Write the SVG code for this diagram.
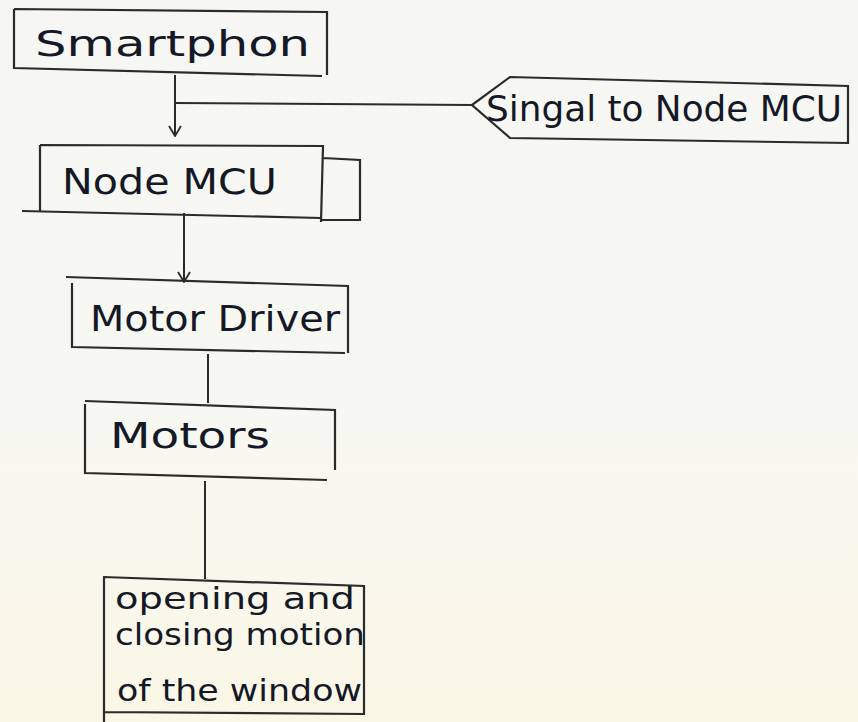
<svg xmlns="http://www.w3.org/2000/svg" width="858" height="722" viewBox="0 0 858 722">
<style>
.box{fill:none;stroke:#2b2b2b;stroke-width:2.2}
.ln{fill:none;stroke:#2b2b2b;stroke-width:2}
.t{font-family:"DejaVu Sans","Liberation Sans",sans-serif;fill:#151826;font-size:36px}
.s{font-size:30px}
</style>
<defs>
<linearGradient id="bg" x1="0" y1="0" x2="0" y2="1">
<stop offset="0" stop-color="#f6f6f4"/>
<stop offset="0.6" stop-color="#f8f8f2"/>
<stop offset="1" stop-color="#faf7e6"/>
</linearGradient>
<marker id="arr" viewBox="0 0 12 14" refX="11" refY="7" markerWidth="12" markerHeight="14" markerUnits="userSpaceOnUse" orient="auto">
<path d="M1 1 L11 7 L1 13" fill="none" stroke="#2b2b2b" stroke-width="1.8"/>
</marker>
</defs>
<rect width="858" height="722" fill="url(#bg)"/>
<g id="connectors">
<path class="ln" d="M175 75 L175 136" marker-end="url(#arr)"/>
<path class="ln" d="M175 103 L472 105"/>
<path class="ln" d="M184 213 L184 282" marker-end="url(#arr)"/>
<path class="ln" d="M208 354 L208 403"/>
<path class="ln" d="M205 481 L205 579"/>
</g>
<g id="smartphone">
<path class="box" d="M14 9 L327 12 L327 75 M14 9 L14 68 L322 76"/>
<text class="t" x="35" y="56" textLength="275" lengthAdjust="spacingAndGlyphs">Smartphon</text>
</g>
<g id="signal">
<path class="box" d="M472 105 L510 77 L848 86 L848 143 L510 138 Z"/>
<text class="t" x="486" y="121" textLength="356" lengthAdjust="spacingAndGlyphs">Singal to Node MCU</text>
</g>
<g id="nodemcu">
<path class="box" d="M40 145 L323 146 L321 222 M40 145 L40 212 M22 211 L321 218 M323 158 L360 160 L360 220 L321 220"/>
<text class="t" x="62" y="194" textLength="215" lengthAdjust="spacingAndGlyphs">Node MCU</text>
</g>
<g id="motordriver">
<path class="box" d="M66 277 L348 286 L348 353 M72 283 L72 347 L345 353"/>
<text class="t" x="90" y="331" textLength="250" lengthAdjust="spacingAndGlyphs">Motor Driver</text>
</g>
<g id="motors">
<path class="box" d="M85 401 L335 410 L335 470 M85 404 L85 473 L327 480"/>
<text class="t" x="110" y="448" textLength="160" lengthAdjust="spacingAndGlyphs">Motors</text>
</g>
<g id="window">
<path class="box" d="M103 577 L364 586 L364 715 M104 577 L104 722 M104 712 L364 714"/>
<text class="t s" x="115" y="609" textLength="240" lengthAdjust="spacingAndGlyphs">opening and</text>
<text class="t s" x="115" y="645" textLength="250" lengthAdjust="spacingAndGlyphs">closing motion</text>
<text class="t s" x="117" y="701" textLength="245" lengthAdjust="spacingAndGlyphs">of the window</text>
</g>
</svg>
